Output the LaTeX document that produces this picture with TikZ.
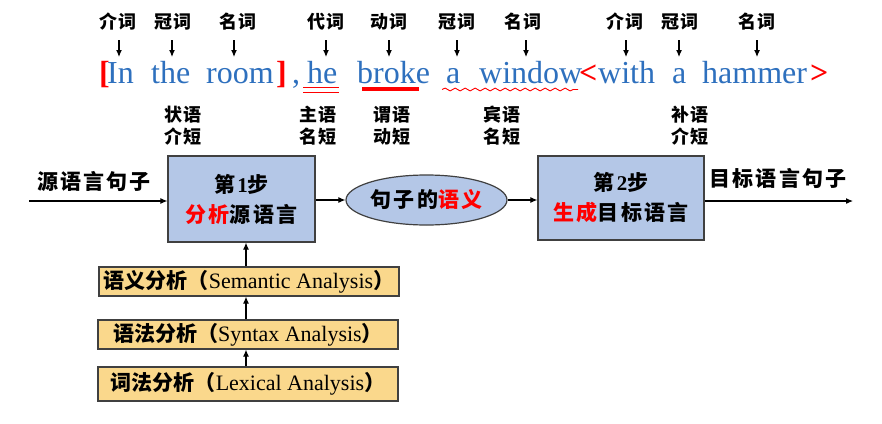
\documentclass[tikz,border=0pt]{standalone}
\usepackage{fontspec}
\setmainfont{Liberation Serif}
\newfontfamily\cjk{Noto Sans CJK SC}[LetterSpace=10]
\newfontfamily\cjkn{Noto Sans CJK SC}
\usetikzlibrary{arrows.meta,shapes.geometric,decorations.pathmorphing}
\newcommand\zh[1]{{\cjk\bfseries #1}}
\newcommand\zhn[1]{{\fontsize{21}{24}\selectfont\cjkn\bfseries #1}}
\definecolor{txtblue}{RGB}{46,112,190}
\definecolor{boxblue}{RGB}{180,199,231}
\definecolor{boxyellow}{RGB}{250,216,140}
\definecolor{bord}{RGB}{64,64,64}
\begin{document}
\begin{tikzpicture}[x=1pt,y=-1pt,
  poslab/.style={font=\fontsize{18}{20}\selectfont\cjk\bfseries, inner sep=0pt},
  word/.style={font=\fontsize{32}{34}\selectfont, text=txtblue, anchor=base west, inner sep=0pt},
  redw/.style={word, text=red, font=\fontsize{32}{34}\selectfont\bfseries},
  rolelab/.style={font=\fontsize{18}{22}\selectfont\cjk\bfseries, align=center, inner sep=0pt},
  arr/.style={-{Latex[length=7pt,width=6pt]}, line width=1.1pt},
  mainbox/.style={draw=bord, line width=1.2pt, fill=boxblue, align=center,
    font=\fontsize{21}{30}\selectfont},
  anbox/.style={draw=bord, line width=1.2pt, fill=boxyellow, minimum width=300pt,
    inner sep=0pt, font=\fontsize{22}{24}\selectfont},
  biglab/.style={font=\fontsize{21}{24}\selectfont\cjk\bfseries, inner sep=0pt}]
\useasboundingbox (0,0) rectangle (882,423);
\fill[white] (0,0) rectangle (882,423);

% sentence words
\node[redw] (lb) at (99,83) {[};
\node[word] (w1) at (107,83) {In};
\node[word] (w2) at (151,83) {the};
\node[word] (w3) at (206,83) {room};
\node[redw] (rb) at (276,83) {]};
\node[word] (cm) at (292,83) {,};
\node[word] (w4) at (307,83) {he};
\node[word] (w5) at (357,83) {broke};
\node[word] (w6) at (446,83) {a};
\node[word] (w7) at (479,83) {window};
\node[redw] (la) at (579,83) {<};
\node[word] (w8) at (598,83) {with};
\node[word] (w9) at (672,83) {a};
\node[word] (w10) at (702,83) {hammer};
\node[redw] (ra) at (810,83) {>};

% underlines
\draw[red, line width=1.6pt] (303,87.5) -- (339,87.5);
\draw[red, line width=1.6pt] (303,92.5) -- (339,92.5);
\draw[red, line width=4pt] (362,89) -- (419,89);
\draw[red, line width=0.9pt, decorate, decoration={snake, segment length=10pt, amplitude=1.4pt}] (442,89.5) -- (578,89.5);

% POS labels
\node[poslab] (p1) at (118,22) {介词};
\node[poslab] (p2) at (173,22) {冠词};
\node[poslab] (p3) at (238,22) {名词};
\node[poslab] (p4) at (326,22) {代词};
\node[poslab] (p5) at (389,22) {动词};
\node[poslab] (p6) at (457,22) {冠词};
\node[poslab] (p7) at (523,22) {名词};
\node[poslab] (p8) at (625,22) {介词};
\node[poslab] (p9) at (680,22) {冠词};
\node[poslab] (p10) at (757,22) {名词};
\foreach \p/\x in {p1/119,p2/172,p3/234,p4/326,p5/389,p6/457,p7/526,p8/626,p9/679,p10/757}
  \draw[arr] (\x,40) -- (\x,57);

% role labels
\node[rolelab] (r1) at (183,126) {状语\\介短};
\node[rolelab] (r2) at (318,126) {主语\\名短};
\node[rolelab] (r3) at (392,126) {谓语\\动短};
\node[rolelab] (r4) at (502,126) {宾语\\名短};
\node[rolelab] (r5) at (690,126) {补语\\介短};

% main flow
\node[mainbox, minimum width=147pt, minimum height=86pt] (s1) at (241.5,199)
  {\zh{第}\textbf{1}\zh{步}\\\textcolor{red}{\zh{分析}}\zh{源语言}};
\node[ellipse, draw=bord, line width=1.2pt, fill=boxblue, minimum width=161pt, minimum height=50pt,
  inner sep=0pt, font=\fontsize{21}{24}\selectfont] (ell) at (426.5,200)
  {\zh{句子的}\textcolor{red}{\zh{语义}}};
\node[mainbox, minimum width=166pt, minimum height=84pt] (s2) at (621,198)
  {\zh{第}\textbf{2}\zh{步}\\\textcolor{red}{\zh{生成}}\zh{目标语言}};

\node[biglab] (srcl) at (94,181) {源语言句子};
\node[biglab] (tgtl) at (778,178) {目标语言句子};
\coordinate (in) at (29,201);
\coordinate (out) at (853,201);
\draw[arr] (in) -- (in -| s1.west);
\draw[arr] (s1.east |- ell.west) -- (ell.west);
\draw[arr] (ell.east) -- (ell.east -| s2.west);
\draw[arr] (out -| s2.east) -- (out);

% analysis boxes
\node[anbox, minimum height=29pt] (sem) at (249,281.5) {\zhn{语义分析（}Semantic Analysis\zhn{）}};
\node[anbox, minimum height=29pt] (syn) at (248,334.5) {\zhn{语法分析（}Syntax Analysis\zhn{）}};
\node[anbox, minimum height=34pt] (lex) at (248,384) {\zhn{词法分析（}Lexical Analysis\zhn{）}};
\draw[arr] (lex.north -| 246,0) -- (syn.south -| 246,0);
\draw[arr] (syn.north -| 246,0) -- (sem.south -| 246,0);
\draw[arr] (sem.north -| 246,0) -- (s1.south -| 246,0);
\end{tikzpicture}
\end{document}
